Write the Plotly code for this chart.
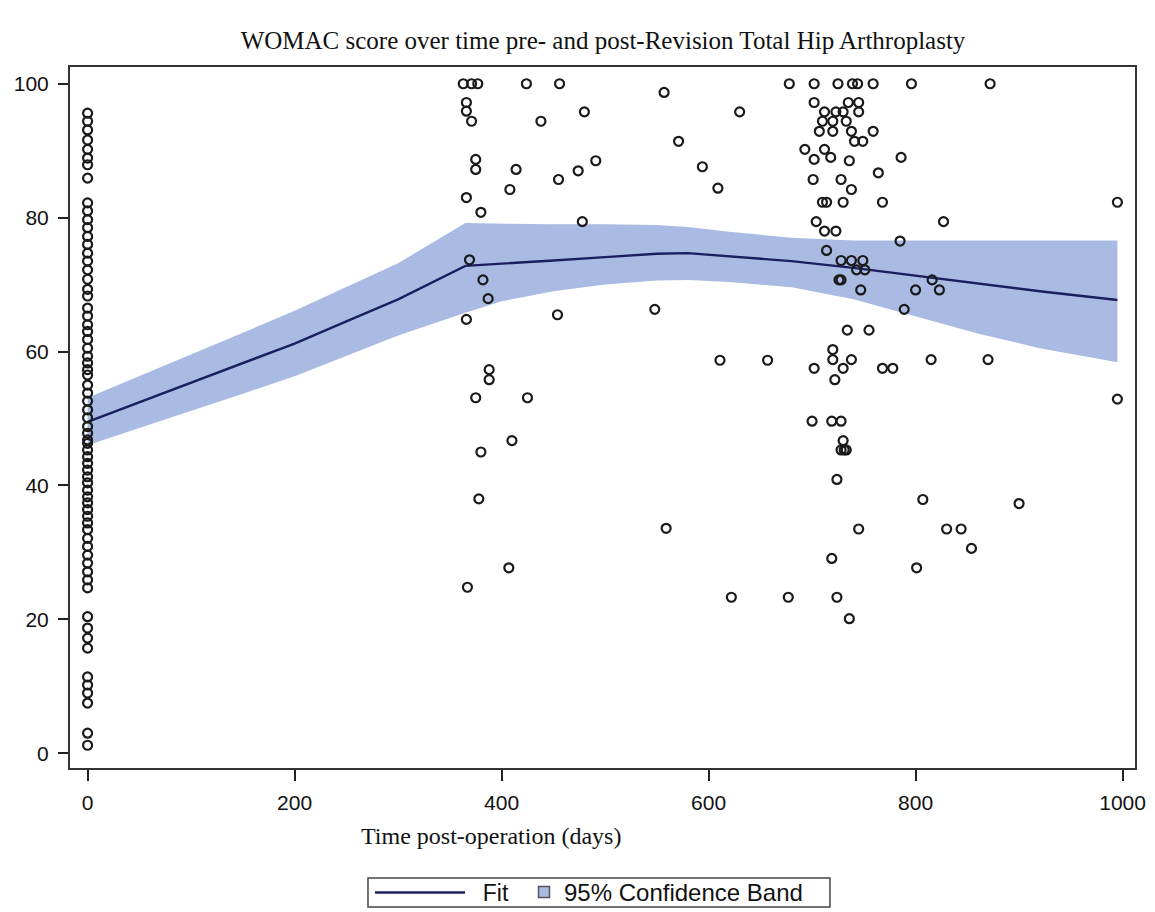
import plotly.graph_objects as go

# ---- Data ----
baseline_days = [0] * 69
baseline_scores = [95.6, 94.4, 93.1, 91.6, 90.2, 88.9, 87.9, 85.9, 82.2, 81.0, 79.7, 78.5,
                   77.2, 76.0, 74.7, 73.5, 72.2, 70.8, 69.3, 68.3, 66.5, 65.3, 64.0, 63.0,
                   61.8, 60.5, 59.3, 58.3, 57.3, 56.5, 55.0, 53.8, 52.6, 51.3, 50.1, 48.8,
                   47.8, 46.8, 46.3, 45.3, 44.3, 43.3, 42.3, 41.3, 40.4, 39.3, 38.3, 37.4,
                   36.4, 35.4, 34.4, 33.4, 32.1, 30.9, 29.6, 28.4, 27.1, 25.9, 24.7, 20.4,
                   18.7, 17.2, 15.7, 11.4, 10.2, 9.0, 7.5, 3.0, 1.2]

followup_days = [363, 371, 377, 424, 456, 366, 366, 371, 438, 375, 375, 414, 408, 455,
                 366, 380, 369, 382, 387, 366, 454, 388, 388, 375, 425, 380, 410, 378,
                 407, 367, 480, 557, 630, 678, 571, 491, 474, 594, 609, 478, 548, 611,
                 657, 559, 622, 677,
                 702, 725, 739, 744, 759, 796, 872, 702, 735, 745, 712, 723, 730, 745,
                 710, 720, 733, 707, 720, 738, 759, 741, 749, 693, 712, 702, 718, 736,
                 786, 764, 701, 728, 738, 710, 714, 730, 768, 995, 704, 827, 712, 723,
                 785, 714, 728, 738, 749, 743, 751, 726, 728, 816, 747, 800, 823, 789,
                 734, 755, 720, 720, 738, 815, 870, 702, 730, 768, 778, 722, 995, 700,
                 719, 728, 730, 728, 733, 731, 724, 807, 900, 745, 830, 844, 854, 719,
                 801, 724, 736]
followup_scores = [100, 100, 100, 100, 100, 97.2, 95.9, 94.4, 94.4, 88.7, 87.2, 87.2, 84.2, 85.7,
                   83.0, 80.8, 73.7, 70.7, 67.9, 64.8, 65.5, 57.3, 55.8, 53.1, 53.1, 45.0, 46.7, 38.0,
                   27.7, 24.8, 95.8, 98.7, 95.8, 100, 91.4, 88.5, 87.0, 87.6, 84.4, 79.4, 66.3, 58.7,
                   58.7, 33.6, 23.3, 23.3,
                   100, 100, 100, 100, 100, 100, 100, 97.2, 97.2, 97.2, 95.8, 95.8, 95.8, 95.8,
                   94.4, 94.4, 94.4, 92.9, 92.9, 92.9, 92.9, 91.4, 91.4, 90.2, 90.2, 88.7, 89.0, 88.5,
                   89.0, 86.7, 85.7, 85.7, 84.2, 82.3, 82.3, 82.3, 82.3, 82.3, 79.4, 79.4, 78.0, 78.0,
                   76.5, 75.1, 73.6, 73.6, 73.6, 72.2, 72.2, 70.7, 70.7, 70.7, 69.2, 69.2, 69.2, 66.3,
                   63.2, 63.2, 60.3, 58.8, 58.8, 58.8, 58.8, 57.5, 57.5, 57.5, 57.5, 55.8, 52.9, 49.6,
                   49.6, 49.6, 46.7, 45.3, 45.3, 45.3, 40.9, 37.9, 37.3, 33.5, 33.5, 33.5, 30.6, 29.1,
                   27.7, 23.3, 20.1]

fit_days = [0, 50, 100, 150, 200, 250, 300, 365, 400, 450, 500, 550, 580, 620, 680, 740, 800, 860, 920, 995]
fit_values = [49.5, 52.4, 55.3, 58.2, 61.2, 64.5, 67.8, 72.8, 73.1, 73.6, 74.1, 74.6, 74.7, 74.2,
              73.5, 72.5, 71.3, 70.2, 69.0, 67.7]
band_upper = [53.1, 56.3, 59.5, 62.8, 66.1, 69.6, 73.2, 79.2, 79.1, 79.0, 79.0, 78.9, 78.6, 77.9,
              77.0, 76.6, 76.6, 76.6, 76.6, 76.6]
band_lower = [46.0, 48.6, 51.2, 53.7, 56.3, 59.3, 62.4, 65.8, 67.5, 69.0, 70.0, 70.6, 70.7, 70.4,
              69.6, 67.8, 65.3, 62.7, 60.5, 58.4]

x_ticks = [0, 200, 400, 600, 800, 1000]
y_ticks = [0, 20, 40, 60, 80, 100]

title_text = "WOMAC score over time pre- and post-Revision Total Hip Arthroplasty"
x_title = "Time post-operation (days)"

# ---- Styles ----
BAND = "#a9bbe3"
LINE = "#1b1f5e"
SERIF = "Liberation Serif, Times New Roman, serif"
SANS = "Liberation Sans, Arial, sans-serif"
W, H = 1147, 904  # page body has an 8px margin

fig = go.Figure()

fig.add_trace(go.Scatter(
    x=fit_days + fit_days[::-1],
    y=band_upper + band_lower[::-1],
    fill="toself", fillcolor=BAND, line=dict(width=0, color=BAND),
    mode="lines", showlegend=False, hoverinfo="skip"))

fig.add_trace(go.Scatter(
    x=fit_days, y=fit_values, mode="lines",
    line=dict(color=LINE, width=2.4), name="\u00a0\u00a0Fit", legend="legend"))

# legend swatch for the confidence band
fig.add_trace(go.Scatter(
    x=[None], y=[None], mode="markers", name="95% Confidence Band", legend="legend2",
    marker=dict(symbol="square", size=11, color=BAND, line=dict(color="#555", width=1.5))))

marker_style = dict(symbol="circle-open", size=9, color="#1a1a1a", line=dict(width=2.2, color="#1a1a1a"))
fig.add_trace(go.Scatter(x=baseline_days, y=baseline_scores, mode="markers",
                         marker=marker_style, showlegend=False))
fig.add_trace(go.Scatter(x=followup_days, y=followup_scores, mode="markers",
                         marker=marker_style, showlegend=False))

leg_y = 1 - 884.5 / H
fig.update_layout(
    width=W, height=H,
    margin=dict(l=62, r=20, t=59, b=144, autoexpand=False),
    paper_bgcolor="white", plot_bgcolor="white",
    title=dict(text=title_text, x=595 / W, xanchor="center", y=1 - 32 / H, yanchor="middle",
               font=dict(family=SERIF, size=25, color="#111")),
    legend=dict(orientation="h", xref="container", yref="container",
                x=362 / W, xanchor="left", y=leg_y, yanchor="middle",
                bgcolor="rgba(0,0,0,0)", borderwidth=0,
                font=dict(family=SANS, size=23, color="#111"), itemwidth=90),
    legend2=dict(orientation="h", xref="container", yref="container",
                 x=516 / W, xanchor="left", y=leg_y, yanchor="middle",
                 bgcolor="rgba(0,0,0,0)", borderwidth=0,
                 font=dict(family=SANS, size=24, color="#111"), itemwidth=30),
    showlegend=True,
)

fig.add_shape(type="rect", xref="paper", yref="paper", x0=0.2798, x1=0.7136, y0=-0.1983, y1=-0.1569,
              line=dict(color="#444", width=1.5), fillcolor="rgba(0,0,0,0)", layer="below")

fig.update_xaxes(range=[-17, 1012], tickvals=x_ticks, ticks="outside", ticklen=11, tickwidth=2,
                 tickcolor="#222", showline=True, linecolor="#333", linewidth=2, mirror=True,
                 showgrid=False, zeroline=False, automargin=False, ticklabelstandoff=4,
                 tickfont=dict(family=SANS, size=21, color="#111"))
fig.update_yaxes(range=[-2.2, 102.5], tickvals=y_ticks, ticks="outside", ticklen=10, tickwidth=2,
                 tickcolor="#222", showline=True, linecolor="#333", linewidth=2, mirror=True,
                 showgrid=False, zeroline=False, automargin=False, ticklabelstandoff=5,
                 tickfont=dict(family=SANS, size=21, color="#111"))

fig.add_annotation(text=x_title, xref="paper", yref="paper", x=0.395, y=-0.097,
                   xanchor="center", yanchor="middle", showarrow=False,
                   font=dict(family=SERIF, size=24, color="#111"))

fig.write_html("out.html")
